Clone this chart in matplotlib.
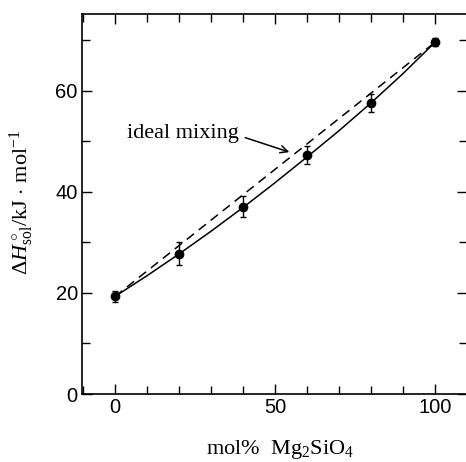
import matplotlib
matplotlib.use('Agg')
import matplotlib.pyplot as plt
from matplotlib.ticker import MultipleLocator

plt.rcParams['font.family'] = 'Liberation Sans'
plt.rcParams['mathtext.fontset'] = 'custom'
plt.rcParams['mathtext.rm'] = 'Liberation Serif'
plt.rcParams['mathtext.it'] = 'Liberation Serif:italic'
plt.rcParams['mathtext.bf'] = 'Liberation Serif:bold'

# measured enthalpy of solution vs composition
mol_pct = [0, 20, 40, 60, 80, 100]
dh_sol = [19.3, 27.8, 37.1, 47.3, 57.6, 69.6]
dh_err = [1.1, 2.2, 2.1, 1.8, 1.8, 0.8]

# fitted curve through the measurements
fit_x = [0, 10, 20, 30, 40, 50, 60, 70, 80, 90, 100]
fit_y = [19.3, 23.4, 27.7, 32.2, 36.9, 41.8, 46.9, 52.1, 57.6, 63.4, 69.6]

# ideal mixing line between the end members
ideal_x = [0, 100]
ideal_y = [19.3, 69.6]

W, H = 466, 462
fig = plt.figure(figsize=(W / 100, H / 100), dpi=100)
ax = fig.add_axes([82 / W, 1 - 394 / H, 385 / W, 380 / H])

ax.plot(fit_x, fit_y, color='black', lw=1.1)
ax.plot(ideal_x, ideal_y, color='black', lw=1.1, ls=(0, (6, 4)))
ax.errorbar(mol_pct, dh_sol, yerr=dh_err, fmt='o', color='black',
            ms=6, capsize=2.5, elinewidth=1, capthick=1)

ax.text(3.75, 50.7, 'ideal mixing', fontsize=16, va='baseline', ha='left',
        family='Liberation Serif')
ax.annotate('', xy=(55.3, 47.7), xytext=(39.9, 50.9),
            arrowprops=dict(arrowstyle='->', color='black', lw=1.1,
                            mutation_scale=13))

ax.set_xlim(-10.3, 110)
ax.set_ylim(0, 75.2)
ax.xaxis.set_major_locator(MultipleLocator(50))
ax.xaxis.set_minor_locator(MultipleLocator(10))
ax.yaxis.set_major_locator(MultipleLocator(20))
ax.yaxis.set_minor_locator(MultipleLocator(10))
ax.tick_params(which='both', direction='in', top=True, right=True,
               labelsize=14.5, width=1, pad=3)
ax.tick_params(which='major', length=7)
ax.tick_params(which='minor', length=6)
for s in ax.spines.values():
    s.set_linewidth(1.2)

ax.set_xlabel(r'mol%  Mg$_2$SiO$_4$', fontsize=16, family='Liberation Serif')
ax.set_ylabel(r'$\Delta H^\circ_{\rm sol}$/kJ$\,\cdot\,$mol$^{-1}$', fontsize=16,
              family='Liberation Serif')
ax.xaxis.set_label_coords(0.514, -0.116)
ax.yaxis.set_label_coords(-0.119, 0.505)

fig.savefig('out.png', dpi=100)
